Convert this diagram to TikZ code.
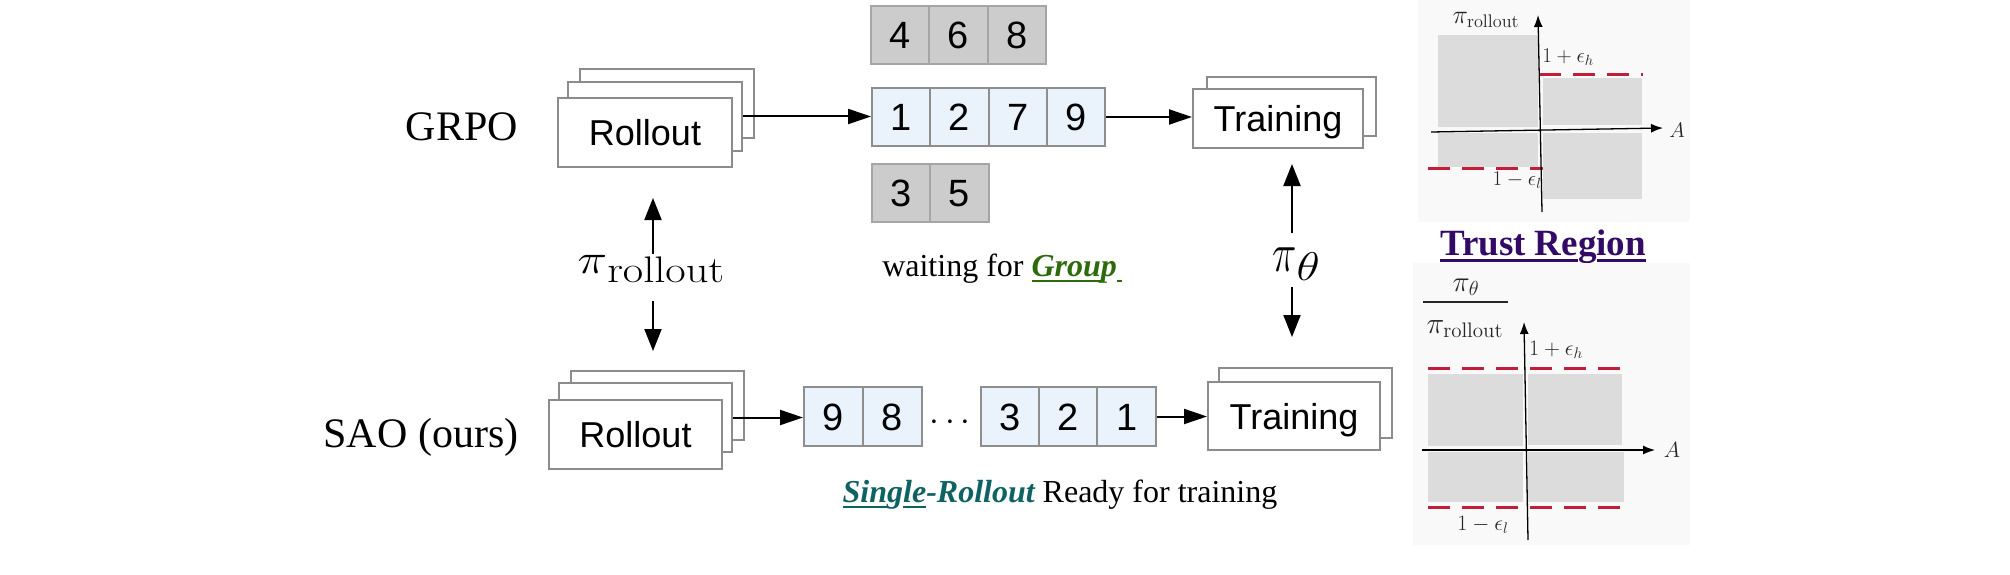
\RequirePackage{fix-cm}
\documentclass[tikz,border=0pt]{standalone}
\usepackage[no-math]{fontspec}
\setmainfont{Liberation Serif}
\setsansfont{Liberation Sans}
\usetikzlibrary{arrows.meta}
\definecolor{boxgray}{HTML}{8C8C8C}
\definecolor{bluebd}{HTML}{8E8E8E}
\definecolor{graybd}{HTML}{A5A5A5}
\definecolor{cellblue}{HTML}{EAF2FC}
\definecolor{cellgray}{HTML}{CCCCCC}
\definecolor{regiongray}{HTML}{DCDCDC}
\definecolor{clipred}{HTML}{C21E3A}
\definecolor{panelbg}{HTML}{F9F9F9}
\definecolor{trustpurple}{HTML}{330A66}
\definecolor{groupgreen}{HTML}{2D6A0C}
\definecolor{singleteal}{HTML}{0E6262}
\newcommand\myul[1]{\setbox0=\hbox{#1}\rlap{\rule[-0.2em]{\wd0}{0.09em}}\box0}
\tikzset{
 procbox/.style={draw=boxgray, fill=white, line width=2pt, inner sep=0pt,
   font=\sffamily\fontsize{36pt}{40pt}\selectfont, text height=26pt, text depth=0pt},
 bcell/.style={draw=bluebd, fill=cellblue, line width=2pt, minimum width=58.3pt,
   minimum height=58pt, inner sep=0pt, font=\sffamily\fontsize{38pt}{42pt}\selectfont,
   text height=27pt, text depth=0pt},
 gcell/.style={bcell, draw=graybd, fill=cellgray},
 arr/.style={line width=2pt, -{Triangle[length=23pt,width=15pt]}},
 varr/.style={line width=2pt, -{Triangle[length=22pt,width=17pt]}},
 method/.style={font=\fontsize{42pt}{48pt}\selectfont, anchor=base, inner sep=0pt},
 bigmath/.style={anchor=base, inner sep=0pt, font=\fontsize{20pt}{24pt}\selectfont},
 capt/.style={font=\fontsize{32pt}{38pt}\selectfont, anchor=base, inner sep=0pt},
 regfill/.style={fill=regiongray, draw=none},
 redclip/.style={draw=clipred, line width=3pt, dash pattern=on 22pt off 12pt},
 axisline/.style={line width=1.3pt, -{Latex[length=12pt,width=9pt]}},
 panellbl/.style={font=\fontsize{20pt}{24pt}\selectfont, inner sep=0pt, text=black!85},
}
\begin{document}
\begin{tikzpicture}[x=1pt,y=-1pt]
\useasboundingbox (0,0) rectangle (2010,575);

% method labels
\node[method] (grpo) at (462,140) {GRPO};
\node[method] (sao) at (421,447) {SAO (ours)};

% top rollout stack
\node[procbox, minimum width=174pt, minimum height=69pt] (rt3) at (667,103.5) {};
\node[procbox, minimum width=174pt, minimum height=69pt] (rt2) at (655,116.5) {};
\node[procbox, minimum width=174pt, minimum height=69pt] (rt1) at (645,132.5) {Rollout};

% bottom rollout stack
\node[procbox, minimum width=173pt, minimum height=69pt] (rb3) at (657.5,405.5) {};
\node[procbox, minimum width=173pt, minimum height=69pt] (rb2) at (645.5,417.5) {};
\node[procbox, minimum width=173pt, minimum height=69pt] (rb1) at (635.5,434.5) {Rollout};

% top training
\node[procbox, minimum width=169pt, minimum height=59pt] (tt2) at (1291.5,106.5) {};
\node[procbox, minimum width=170pt, minimum height=59pt] (tt1) at (1278,118.5) {Training};

% bottom training
\node[procbox, minimum width=173pt, minimum height=70pt] (tb2) at (1305.5,403) {};
\node[procbox, minimum width=172pt, minimum height=68pt] (tb1) at (1294,416) {Training};

% GRPO cells
\node[gcell] (g4) at (900.2,35) {4};
\node[gcell] (g6) at (958.5,35) {6};
\node[gcell] (g8) at (1016.8,35) {8};
\node[bcell] (b1) at (901.2,117) {1};
\node[bcell] (b2) at (959.5,117) {2};
\node[bcell] (b3) at (1017.8,117) {7};
\node[bcell] (b4) at (1076.1,117) {9};
\node[gcell] (g3) at (901.2,193) {3};
\node[gcell] (g5) at (959.5,193) {5};

% SAO cells
\node[bcell, minimum width=59pt, minimum height=59pt] (s9) at (833.5,416.5) {9};
\node[bcell, minimum width=59pt, minimum height=59pt] (s8) at (892.5,416.5) {8};
\node[font=\fontsize{20pt}{24pt}\selectfont, anchor=base, inner sep=0pt] (dots) at (950,430) {\scalebox{1.75}{$\cdots$}};
\node[bcell, minimum width=58.3pt, minimum height=59pt] (s3) at (1010,416.5) {3};
\node[bcell, minimum width=58.3pt, minimum height=59pt] (s2) at (1068.3,416.5) {2};
\node[bcell, minimum width=58.3pt, minimum height=59pt] (s1) at (1126.6,416.5) {1};

% horizontal arrows
\draw[arr] (rt2.east) -- (rt2.east -| b1.west);
\draw[arr] (b4.east) -- (b4.east -| tt1.west);
\draw[arr] (rb2.east) -- (rb2.east -| s9.west);
\draw[arr] (s1.east) -- (s1.east -| tb1.west);

% policy labels and vertical arrows
\node[bigmath] (pir) at (651,273) {\scalebox{2.5}[2.1]{$\pi$}\raisebox{-9pt}{\scalebox{2.22}[1.85]{$\mathrm{rollout}$}}};
\node[bigmath] (pit) at (1296,271) {\scalebox{2.06}[2.75]{$\pi$}\raisebox{-9pt}{\scalebox{2.4}[2]{$\theta$}}};
\draw[varr, shorten <=1pt, shorten >=30pt] ([xshift=2pt]pir.north) -- ([xshift=2pt]pir.north |- rt1.south);
\draw[varr, shorten <=19pt, shorten >=19pt] ([xshift=2pt]pir.south) -- ([xshift=2pt]pir.south |- rb3.north);
\draw[varr, shorten <=14pt, shorten >=15pt] ([xshift=-4pt]pit.north) -- ([xshift=-4pt]pit.north |- tt1.south);
\draw[varr, shorten <=7pt, shorten >=30pt] ([xshift=-4pt]pit.south) -- ([xshift=-4pt]pit.south |- tb2.north);

% captions
\node[capt] (wait) at (1002,276) {waiting for \textcolor{groupgreen}{\bfseries\itshape\myul{Grou}p\myul{\hspace{0.15em}}}};
\node[capt] (single) at (1060,502) {\textcolor{singleteal}{\bfseries\itshape\myul{Sin}g\myul{le}-Rollout} Ready for training};

% ---- panel 1
\fill[panelbg] (1418,0) rectangle (1690,222);
\fill[regfill] (1438,35) rectangle (1538,127);
\fill[regfill] (1438,133) rectangle (1538,167);
\fill[regfill] (1543,78) rectangle (1642,125);
\fill[regfill] (1543,133) rectangle (1642,199);
\draw[redclip] (1539,75) -- (1643,75);
\draw[redclip] (1428,168) -- (1543,168);
\draw[axisline] (1431,132) -- (1663,128);
\draw[axisline] (1542,212) -- (1538,15);
\node[panellbl] (p1pi) at (1486,20) {\scalebox{1.3}{$\pi_{\mathrm{rollout}}$}};
\node[panellbl] (p1h) at (1568,57) {\scalebox{1.05}{$1+\epsilon_h$}};
\node[panellbl] (p1l) at (1517,180) {\scalebox{1.05}{$1-\epsilon_l$}};
\node[panellbl] (p1a) at (1677,130) {\scalebox{1.05}{$A$}};

% Trust region title
\node[font=\bfseries\fontsize{37pt}{42pt}\selectfont, text=trustpurple, anchor=base, inner sep=0pt] (tr) at (1543,255) {\myul{Trust Re}g\myul{ion}};

% ---- panel 2
\fill[panelbg] (1413,263) rectangle (1690,545);
\fill[regfill] (1428,374) rectangle (1523,446);
\fill[regfill] (1528,374) rectangle (1622,445);
\fill[regfill] (1428,452) rectangle (1523,502);
\fill[regfill] (1528,452) rectangle (1624,502);
\draw[redclip] (1428,368) -- (1630,368);
\draw[redclip] (1428,507) -- (1630,507);
\draw[axisline] (1422,450) -- (1655,450);
\draw[axisline] (1528,540) -- (1524,322);
\node[panellbl] (p2num) at (1466,287) {\scalebox{1.45}{$\pi_\theta$}};
\draw[line width=1.2pt, black!85] (1423,302) -- (1508,302);
\node[panellbl] (p2den) at (1465,329) {\scalebox{1.5}{$\pi_{\mathrm{rollout}}$}};
\node[panellbl] (p2h) at (1556,350) {\scalebox{1.1}{$1+\epsilon_h$}};
\node[panellbl] (p2l) at (1483,525) {\scalebox{1.1}{$1-\epsilon_l$}};
\node[panellbl] (p2a) at (1672,450) {\scalebox{1.1}{$A$}};
\end{tikzpicture}
\end{document}
